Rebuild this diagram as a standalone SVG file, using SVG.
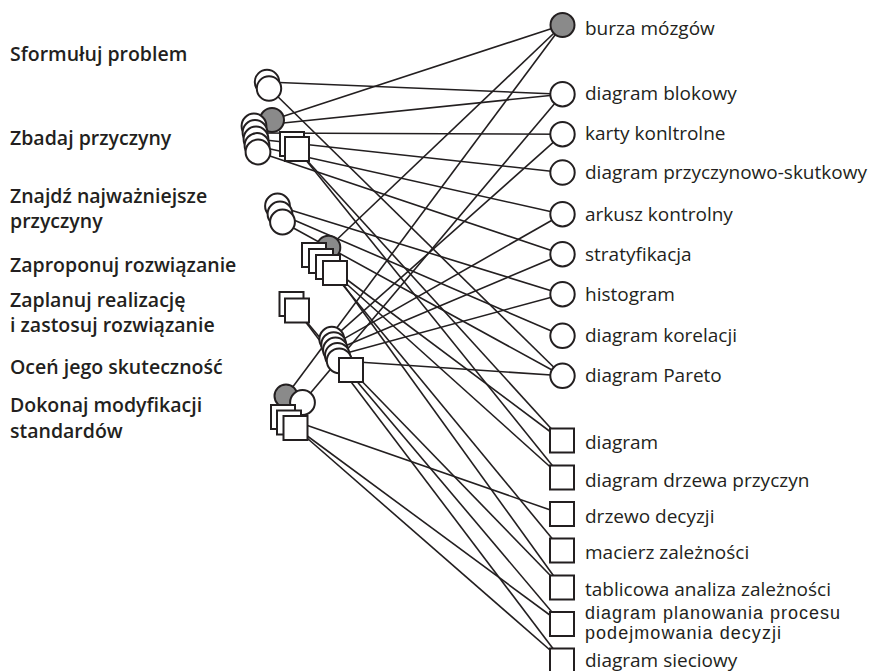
<svg xmlns="http://www.w3.org/2000/svg" width="880" height="671" viewBox="0 0 880 671">
<style>
.ln{stroke:#231f20;stroke-width:1.6;fill:none}
.w{fill:#fff;stroke:#231f20;stroke-width:2}
.g{fill:#8a8a8a;stroke:#231f20;stroke-width:2}
.t{font-family:'Open Sans','Liberation Sans',sans-serif;font-size:19px;fill:#231f20}
.t2{font-family:'Liberation Sans',Arial,sans-serif;font-size:18px;fill:#231f20}
.s{font-family:'Open Sans','Liberation Sans',sans-serif;font-size:19.5px;font-weight:600;fill:#231f20}
</style>
<rect width="880" height="671" fill="#fff"/>
<g id="connectors">
<line class="ln" x1="267" y1="82" x2="562.5" y2="94.2"/>
<line class="ln" x1="269" y1="88" x2="562.5" y2="375.8"/>
<line class="ln" x1="272" y1="120" x2="562.5" y2="25"/>
<line class="ln" x1="254" y1="126" x2="562.5" y2="94.2"/>
<line class="ln" x1="255" y1="133" x2="562.5" y2="134.2"/>
<line class="ln" x1="256" y1="139" x2="562.5" y2="172.5"/>
<line class="ln" x1="257" y1="146" x2="562.5" y2="214.2"/>
<line class="ln" x1="258" y1="152" x2="562.5" y2="254.2"/>
<line class="ln" x1="292" y1="144" x2="562" y2="440.5"/>
<line class="ln" x1="297" y1="149" x2="562" y2="477.5"/>
<line class="ln" x1="277.5" y1="206" x2="562.5" y2="294.2"/>
<line class="ln" x1="280" y1="214" x2="562.5" y2="335.8"/>
<line class="ln" x1="282.5" y1="222" x2="562.5" y2="375.8"/>
<line class="ln" x1="328.5" y1="247.5" x2="562.5" y2="25"/>
<line class="ln" x1="314" y1="255" x2="562" y2="440.5"/>
<line class="ln" x1="321" y1="261" x2="562" y2="477.5"/>
<line class="ln" x1="328" y1="267" x2="562" y2="550.5"/>
<line class="ln" x1="335" y1="273" x2="562" y2="587.5"/>
<line class="ln" x1="291.5" y1="304" x2="562" y2="624"/>
<line class="ln" x1="297" y1="310.5" x2="562" y2="660.5"/>
<line class="ln" x1="331.8" y1="339.2" x2="562.5" y2="134.2"/>
<line class="ln" x1="333.7" y1="344.6" x2="562.5" y2="214.2"/>
<line class="ln" x1="335.5" y1="350" x2="562.5" y2="254.2"/>
<line class="ln" x1="337.4" y1="355.4" x2="562.5" y2="294.2"/>
<line class="ln" x1="339.2" y1="360.8" x2="562.5" y2="375.8"/>
<line class="ln" x1="351" y1="370" x2="562" y2="587.5"/>
<line class="ln" x1="286" y1="396" x2="562.5" y2="25"/>
<line class="ln" x1="302.5" y1="402.5" x2="562.5" y2="94.2"/>
<line class="ln" x1="283" y1="417" x2="562" y2="514"/>
<line class="ln" x1="289" y1="422.5" x2="562" y2="624"/>
<line class="ln" x1="295.5" y1="428" x2="562" y2="660.5"/>
</g>
<g id="step1">
<text class="s" x="10" y="61">Sformułuj problem</text>
<circle class="w" cx="267" cy="82" r="12.2"/>
<circle class="w" cx="269" cy="88.5" r="12.2"/>
</g>
<g id="step2">
<text class="s" x="10" y="145">Zbadaj przyczyny</text>
<circle class="g" cx="272" cy="120" r="12"/>
<circle class="w" cx="254" cy="126" r="12.4"/>
<circle class="w" cx="255" cy="132.5" r="12.4"/>
<circle class="w" cx="256" cy="139" r="12.4"/>
<circle class="w" cx="257" cy="145.5" r="12.4"/>
<circle class="w" cx="258" cy="152" r="12.4"/>
<rect class="w" x="280" y="132" width="24" height="24"/>
<rect class="w" x="285" y="137" width="24" height="24"/>
</g>
<g id="step3">
<text class="s" x="10" y="203">Znajdź najważniejsze</text>
<text class="s" x="10" y="228">przyczyny</text>
<circle class="w" cx="277.5" cy="206" r="12.4"/>
<circle class="w" cx="280" cy="214" r="12.4"/>
<circle class="w" cx="282.5" cy="222" r="12.4"/>
</g>
<g id="step4">
<text class="s" x="10" y="272">Zaproponuj rozwiązanie</text>
<circle class="g" cx="328.5" cy="247.5" r="11.8"/>
<rect class="w" x="302" y="243" width="24" height="24"/>
<rect class="w" x="309" y="249" width="24" height="24"/>
<rect class="w" x="316" y="255" width="24" height="24"/>
<rect class="w" x="323" y="261" width="24" height="24"/>
</g>
<g id="step5">
<text class="s" x="10" y="307">Zaplanuj realizację</text>
<text class="s" x="10" y="332">i zastosuj rozwiązanie</text>
<rect class="w" x="279.5" y="292" width="24" height="24"/>
<rect class="w" x="285" y="298.5" width="24" height="24"/>
</g>
<g id="step6">
<text class="s" x="10" y="374">Oceń jego skuteczność</text>
<circle class="w" cx="331.8" cy="339.2" r="12.4"/>
<circle class="w" cx="333.7" cy="344.6" r="12.4"/>
<circle class="w" cx="335.5" cy="350" r="12.4"/>
<circle class="w" cx="337.4" cy="355.4" r="12.4"/>
<circle class="w" cx="339.2" cy="360.8" r="12.4"/>
<rect class="w" x="339" y="358" width="24" height="24"/>
</g>
<g id="step7">
<text class="s" x="10" y="412">Dokonaj modyfikacji</text>
<text class="s" x="10" y="438">standardów</text>
<circle class="g" cx="286" cy="396" r="11.5"/>
<circle class="w" cx="302.5" cy="402.5" r="12.4"/>
<rect class="w" x="271" y="405" width="24" height="24"/>
<rect class="w" x="277" y="410.5" width="24" height="24"/>
<rect class="w" x="283.5" y="416" width="24" height="24"/>
</g>
<g id="burza"><circle class="g" cx="562.5" cy="25" r="12"/><text class="t" x="585" y="35">burza mózgów</text></g>
<g id="blokowy"><circle class="w" cx="562.5" cy="94.2" r="12.2"/><text class="t" x="585" y="100">diagram blokowy</text></g>
<g id="karty"><circle class="w" cx="562.5" cy="134.2" r="12.2"/><text class="t" x="585" y="139.5">karty konltrolne</text></g>
<g id="przyczynowo"><circle class="w" cx="562.5" cy="172.5" r="12.2"/><text class="t" x="585" y="178.5">diagram przyczynowo-skutkowy</text></g>
<g id="arkusz"><circle class="w" cx="562.5" cy="214.2" r="12.2"/><text class="t" x="585" y="221">arkusz kontrolny</text></g>
<g id="stratyfikacja"><circle class="w" cx="562.5" cy="254.2" r="12.2"/><text class="t" x="585" y="261">stratyfikacja</text></g>
<g id="histogram"><circle class="w" cx="562.5" cy="294.2" r="12.2"/><text class="t" x="585" y="301">histogram</text></g>
<g id="korelacji"><circle class="w" cx="562.5" cy="335.8" r="12.2"/><text class="t" x="585" y="342">diagram korelacji</text></g>
<g id="pareto"><circle class="w" cx="562.5" cy="375.8" r="12.2"/><text class="t" x="585" y="382">diagram Pareto</text></g>
<g id="q1"><rect class="w" x="550" y="428.5" width="24" height="24"/><text class="t" x="585" y="449">diagram</text></g>
<g id="q2"><rect class="w" x="550" y="465.5" width="24" height="24"/><text class="t" x="585" y="486.5">diagram drzewa przyczyn</text></g>
<g id="q3"><rect class="w" x="550" y="502" width="24" height="24"/><text class="t" x="585" y="522.5">drzewo decyzji</text></g>
<g id="q4"><rect class="w" x="550" y="538.5" width="24" height="24"/><text class="t" x="585" y="559">macierz zależności</text></g>
<g id="q5"><rect class="w" x="550" y="575.5" width="24" height="24"/><text class="t" x="585" y="596">tablicowa analiza zależności</text></g>
<g id="q6"><rect class="w" x="550" y="612" width="24" height="24"/><text class="t2" x="585" y="618.5" textLength="255" lengthAdjust="spacing">diagram planowania procesu</text><text class="t2" x="585" y="638.8" textLength="196" lengthAdjust="spacing">podejmowania decyzji</text></g>
<g id="q7"><rect class="w" x="550" y="648.5" width="24" height="24"/><text class="t" x="585" y="666.5">diagram sieciowy</text></g>
</svg>
